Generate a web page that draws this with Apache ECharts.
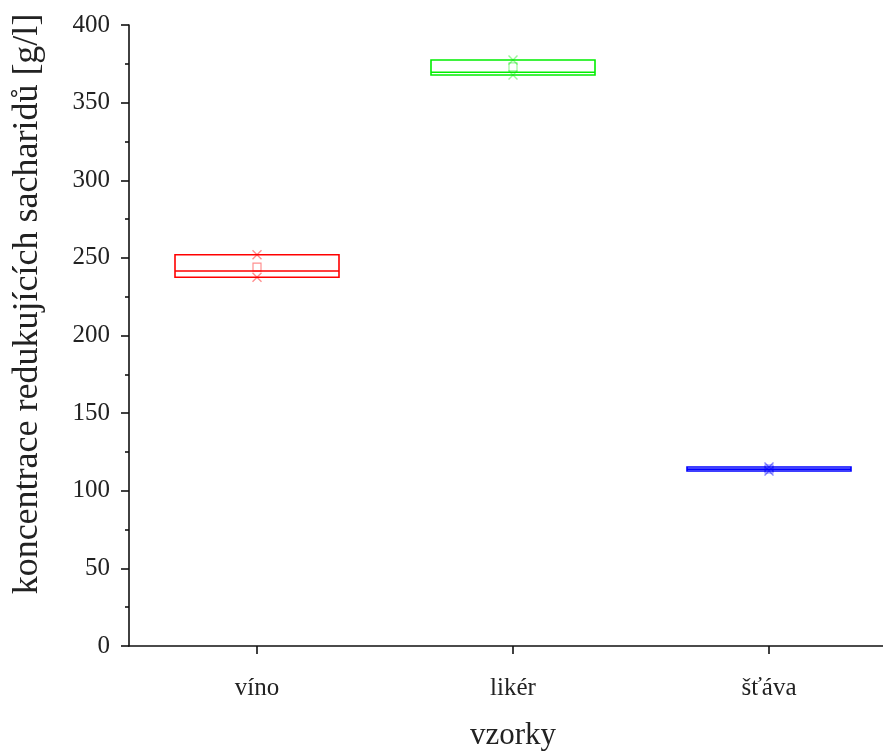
<!DOCTYPE html>
<html><head><meta charset="utf-8">
<script src="https://cdn.jsdelivr.net/npm/echarts@6/dist/echarts.min.js"></script>
<style>html,body{margin:0;padding:0;background:#fff;overflow:hidden;width:883px;height:752px}#c{width:897px;height:752px}</style>
</head><body><div id="c"></div>
<script>
const categories = ['víno', 'likér', 'šťáva'];
const minVals = [237.5, 367.8, 112.7];
const q1Vals = [237.5, 367.8, 112.7];
const medianVals = [241.5, 369.6, 113.9];
const q3Vals = [252.0, 377.5, 115.3];
const maxVals = [252.0, 377.5, 115.3];
const meanVals = [244.0, 373.0, 114.0];
const yTicks = [0, 50, 100, 150, 200, 250, 300, 350, 400];

const colors = ['#ff0000', '#00ee00', '#0000ff'];
const markColors = ['rgba(255,0,0,0.55)', 'rgba(0,230,0,0.5)', 'rgba(0,0,255,0.6)'];
const font = '"Liberation Serif", "Times New Roman", serif';
const xPath = 'path://M0,1L1,0L10,9L9,10Z M9,0L10,1L1,10L0,9Z';

const chart = echarts.init(document.getElementById('c'));
chart.setOption({
  animation: false,
  backgroundColor: '#fff',
  grid: { left: 129, width: 768, top: 25, height: 621, containLabel: false, outerBoundsMode: 'none' },
  xAxis: {
    type: 'category', data: categories, boundaryGap: true,
    name: 'vzorky', nameLocation: 'middle', nameGap: 74,
    nameTextStyle: { fontFamily: font, fontSize: 31, color: '#222' },
    axisLine: { lineStyle: { color: '#111', width: 1.6 } },
    axisTick: { show: true, alignWithLabel: true, length: 8, lineStyle: { color: '#111', width: 1.6 } },
    axisLabel: { fontFamily: font, fontSize: 25, color: '#222', margin: 30 },
    splitLine: { show: false }
  },
  yAxis: {
    type: 'value', min: yTicks[0], max: yTicks[yTicks.length - 1], interval: 50,
    axisLine: { show: true, lineStyle: { color: '#111', width: 1.6 } },
    axisTick: { show: true, length: 8, lineStyle: { color: '#111', width: 1.6 } },
    minorTick: { show: true, splitNumber: 2, length: 4, lineStyle: { color: '#111', width: 1.6 } },
    axisLabel: { fontFamily: font, fontSize: 25, color: '#222', margin: 19 },
    splitLine: { show: false }
  },
  graphic: [{
    type: 'text', x: 28, y: 304, rotation: Math.PI / 2,
    style: { text: 'koncentrace redukujících sacharidů [g/l]', font: '36px ' + font, fill: '#222',
      textAlign: 'center', textVerticalAlign: 'middle' }
  }],
  series: [
    {
      type: 'boxplot', boxWidth: [164, 164],
      data: categories.map((c, i) => ({
        value: [minVals[i], q1Vals[i], medianVals[i], q3Vals[i], maxVals[i]],
        itemStyle: { color: 'transparent', borderColor: colors[i], borderWidth: 1.6 }
      })),
      emphasis: { disabled: true }
    },
    {
      type: 'scatter', symbol: xPath, symbolSize: 10, z: 5,
      data: categories.flatMap((c, i) => [
        { value: [c, minVals[i]], itemStyle: { color: markColors[i] } },
        { value: [c, maxVals[i]], itemStyle: { color: markColors[i] } }
      ])
    },
    {
      type: 'scatter', symbol: 'rect', symbolSize: 8, z: 5,
      data: categories.map((c, i) => ({
        value: [c, meanVals[i]],
        itemStyle: { color: 'transparent', borderColor: markColors[i], borderWidth: 1.2 }
      }))
    }
  ]
});
</script></body></html>
